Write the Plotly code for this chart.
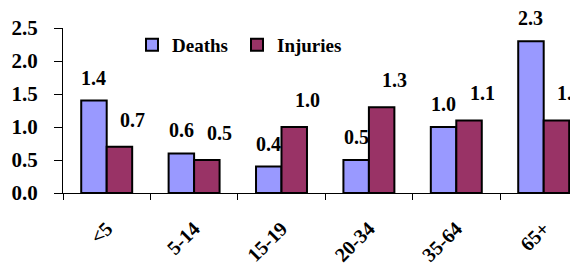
import plotly.graph_objects as go

categories = ["<5", "5-14", "15-19", "20-34", "35-64", "65+"]
deaths = [1.4, 0.6, 0.4, 0.5, 1.0, 2.3]
injuries = [0.7, 0.5, 1.0, 1.3, 1.1, 1.1]
y_ticks = [0.0, 0.5, 1.0, 1.5, 2.0, 2.5]

FONT = "Liberation Serif"
DEATH_COLOR = "#9999FF"
INJURY_COLOR = "#993366"

# page body has an 8px default margin; the figure is sized to fill the rest
W, H = 570, 257
L, T, B = 55, 20, 72
PLOT_W = W - L
CAT_PX = 87.4

fig = go.Figure()
fig.add_trace(go.Bar(name="Deaths", x=categories, y=deaths,
                     marker=dict(color=DEATH_COLOR, line=dict(color="black", width=2))))
fig.add_trace(go.Bar(name="Injuries", x=categories, y=injuries,
                     marker=dict(color=INJURY_COLOR, line=dict(color="black", width=2))))

half_bar = 12.75
for c, v in zip(categories, deaths):
    fig.add_annotation(x=c, y=v, text=f"{v:.1f}", showarrow=False,
                       xref="x", yref="y", xanchor="center", yanchor="bottom",
                       xshift=-half_bar, yshift=10,
                       font=dict(family=FONT, size=20, color="black", weight="bold"))
for c, v in zip(categories, injuries):
    fig.add_annotation(x=c, y=v, text=f"{v:.1f}", showarrow=False,
                       xref="x", yref="y", xanchor="center", yanchor="bottom",
                       xshift=half_bar + 13, yshift=14,
                       font=dict(family=FONT, size=20, color="black", weight="bold"))

fig.update_layout(
    width=W, height=H,
    margin=dict(l=L, r=0, t=T, b=B),
    paper_bgcolor="white", plot_bgcolor="white",
    barmode="group", bargap=0.417, bargroupgap=0,
    font=dict(family=FONT, color="black", weight="bold"),
    showlegend=True,
    legend=dict(orientation="h", x=(124 - L) / PLOT_W, y=(185 - 37) / (H - T - B),
                xanchor="left", yanchor="middle", bgcolor="rgba(0,0,0,0)",
                font=dict(family=FONT, size=19, color="black", weight="bold"),
                entrywidth=60, itemsizing="constant"),
)
fig.update_xaxes(
    range=[-0.5, -0.5 + PLOT_W / CAT_PX], type="category",
    showline=True, linecolor="black", linewidth=1,
    ticks="outside", tickson="boundaries", ticklen=6, tickcolor="black",
    tickangle=-45, ticklabelstandoff=15,
    tickfont=dict(family=FONT, size=20, color="black", weight="bold"),
    showgrid=False, zeroline=False, fixedrange=True,
)
fig.update_yaxes(
    range=[0, 2.5], tickvals=y_ticks, ticktext=[f"{t:.1f}" for t in y_ticks],
    showline=True, linecolor="black", linewidth=1,
    ticks="outside", ticklen=8, tickcolor="black", ticklabelstandoff=12,
    tickfont=dict(family=FONT, size=21, color="black", weight="bold"),
    showgrid=False, zeroline=False, fixedrange=True,
)

fig.write_html("out.html")
